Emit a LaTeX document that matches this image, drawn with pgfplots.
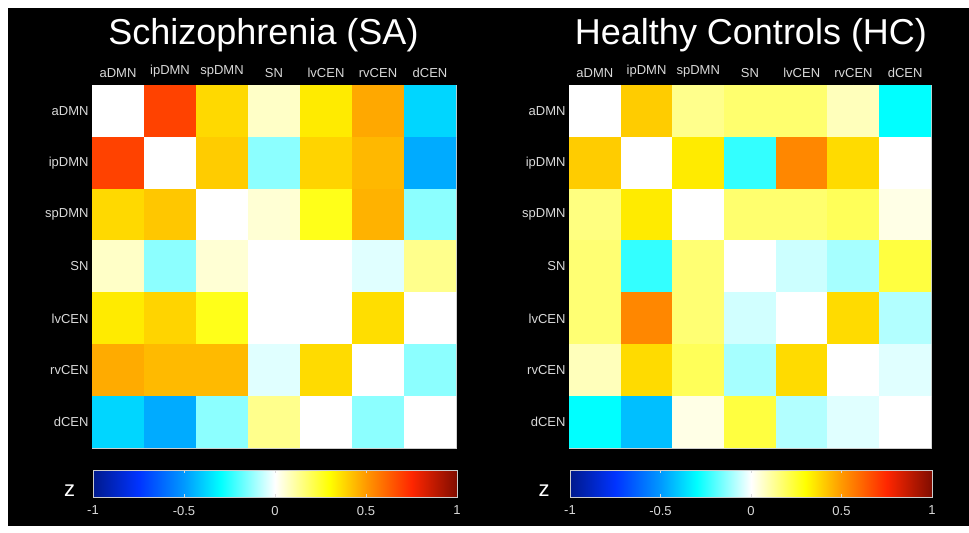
\documentclass[border=0pt]{standalone}
\usepackage{pgfplots}
\usepackage{pgfplotstable}
\pgfplotsset{compat=1.18}
\usepackage{fontspec}
\setmainfont{Liberation Sans}

\pgfplotstableread{
x y z
0 0 0
1 0 0.69
2 0 0.375
3 0 0.066
4 0 0.34
5 0 0.47
6 0 -0.38
0 1 0.69
1 1 0
2 1 0.40
3 1 -0.135
4 1 0.385
5 1 0.44
6 1 -0.465
0 2 0.375
1 2 0.41
2 2 0
3 2 0.05
4 2 0.27
5 2 0.45
6 2 -0.135
0 3 0.066
1 3 -0.135
2 3 0.05
3 3 0
4 3 0
5 3 -0.036
6 3 0.135
0 4 0.34
1 4 0.385
2 4 0.27
3 4 0
4 4 0
5 4 0.365
6 4 0
0 5 0.465
1 5 0.435
2 5 0.435
3 5 -0.036
4 5 0.37
5 5 0
6 5 -0.135
0 6 -0.38
1 6 -0.465
2 6 -0.135
3 6 0.135
4 6 0
5 6 -0.135
6 6 0
}\SAtable

\pgfplotstableread{
x y z
0 0 0
1 0 0.40
2 0 0.135
3 0 0.17
4 0 0.17
5 0 0.08
6 0 -0.30
0 1 0.40
1 1 0
2 1 0.34
3 1 -0.24
4 1 0.54
5 1 0.37
6 1 0
0 2 0.15
1 2 0.34
2 2 0
3 2 0.17
4 2 0.17
5 2 0.195
6 2 0.03
0 3 0.165
1 3 -0.24
2 3 0.165
3 3 0
4 3 -0.06
5 3 -0.105
6 3 0.225
0 4 0.165
1 4 0.54
2 4 0.165
3 4 -0.054
4 4 0
5 4 0.37
6 4 -0.09
0 5 0.08
1 5 0.37
2 5 0.195
3 5 -0.105
4 5 0.37
5 5 0
6 5 -0.036
0 6 -0.30
1 6 -0.425
2 6 0.03
3 6 0.225
4 6 -0.09
5 6 -0.036
6 6 0
}\HCtable

\definecolor{lightgr}{gray}{0.85}
\definecolor{edgegr}{gray}{0.8}

\pgfplotsset{
  colormap={szmap}{rgb(0pt)=(0,0.1,0.55) rgb(25pt)=(0,0.2,1) rgb(50pt)=(0,0.6,1) rgb(70pt)=(0,1,1) rgb(100pt)=(1,1,1) rgb(130pt)=(1,1,0) rgb(150pt)=(1,0.6,0) rgb(175pt)=(1,0.15,0) rgb(200pt)=(0.5,0.05,0)},
  heat/.style 2 args={
    at={#1}, anchor=south west, scale only axis,
    width=#2, height=363bp,
    xmin=-0.5, xmax=6.5, ymin=-0.5, ymax=6.5, y dir=reverse,
    xtick={0,...,6}, ytick={0,...,6},
    xticklabels={aDMN,ipDMN,spDMN,SN,lvCEN,rvCEN,dCEN},
    yticklabels={aDMN,ipDMN,spDMN,SN,lvCEN,rvCEN,dCEN},
    xtick pos=both, xticklabel pos=upper,
    ytick pos=both, yticklabel pos=left,
    tick align=inside, major tick length=3.5bp,
    tick style={draw=white!85!black, line width=0.6bp},
    axis line style={draw=edgegr, line width=0.9bp},
    ticklabel style={font=\fontsize{13bp}{15bp}\selectfont, text=lightgr},
    xticklabel style={yshift=4bp},
    colormap name=szmap, point meta min=-1, point meta max=1,
    colorbar horizontal,
    colorbar/width=27bp,
    colorbar style={
      y dir=normal,
      at={(parent axis.south west)}, anchor=north west,
      xshift=1bp, yshift=-14bp,
      scale only axis, width=#2,
      xtick={-1,-0.5,0,0.5,1}, xticklabels={-1,-0.5,0,0.5,1},
      xtick pos=both, xticklabel pos=lower,
      tick align=inside, major tick length=3bp,
      tick style={draw=white!85!black, line width=0.6bp},
      axis line style={draw=edgegr, line width=0.9bp},
      ticklabel style={font=\fontsize{13bp}{15bp}\selectfont, text=lightgr},
      xticklabel style={yshift=-5bp},
    },
  },
}

\begin{document}
\begin{tikzpicture}[x=1bp, y=1bp]
\fill[white] (0,0) rectangle (969,533);
\fill[black] (8,7) rectangle (969,525);

\begin{axis}[heat={(92bp,85bp)}{364bp}]
\addplot[matrix plot*, mesh/cols=7, point meta=explicit] table[x=x, y=y, meta=z] {\SAtable};
\end{axis}

\begin{axis}[heat={(569bp,85bp)}{362bp}]
\addplot[matrix plot*, mesh/cols=7, point meta=explicit] table[x=x, y=y, meta=z] {\HCtable};
\end{axis}

\node[anchor=base, text=white, font=\fontsize{36bp}{40bp}\selectfont] at (263.5,488) {Schizophrenia (SA)};
\node[anchor=base, text=white, font=\fontsize{36bp}{40bp}\selectfont] at (751,488) {Healthy Controls (HC)};
\node[anchor=base, text=white, font=\fontsize{22bp}{24bp}\selectfont, inner sep=0pt] at (69.5,36) {z};
\node[anchor=base, text=white, font=\fontsize{22bp}{24bp}\selectfont, inner sep=0pt] at (544,36) {z};
\end{tikzpicture}
\end{document}
